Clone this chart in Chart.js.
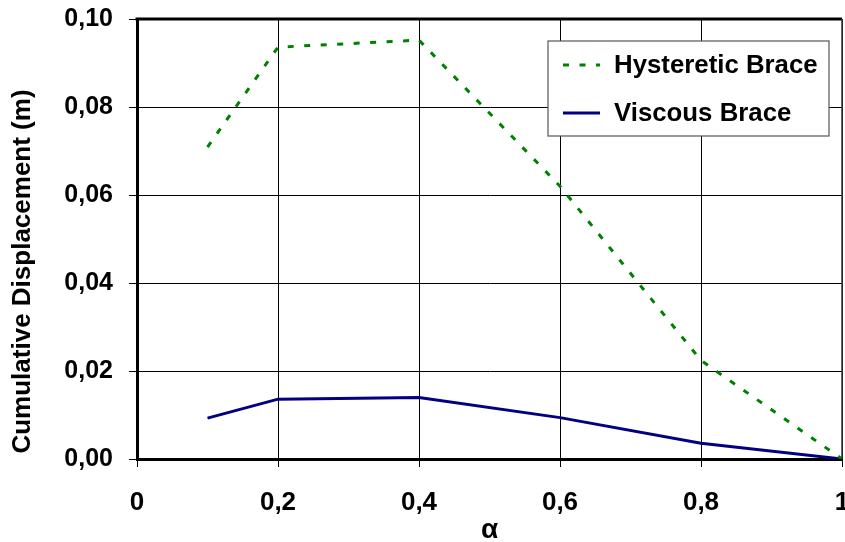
<!DOCTYPE html>
<html><head><meta charset="utf-8">
<script src="https://cdn.jsdelivr.net/npm/chart.js@4"></script>
<style>html,body{margin:0;padding:0;background:#fff}#wrap{width:845px;height:542px;position:relative}</style>
</head><body><div id="wrap"><canvas id="c"></canvas></div>
<script>
const alphaValues = [0.1, 0.2, 0.4, 0.6, 0.8, 1.0];
const hystereticBrace = [0.0709, 0.0936, 0.0952, 0.0620, 0.0224, 0.0];
const viscousBrace = [0.0093, 0.0136, 0.0140, 0.0094, 0.0036, 0.0];
const xTickValues = [0, 0.2, 0.4, 0.6, 0.8, 1];
const yTickValues = [0, 0.02, 0.04, 0.06, 0.08, 0.10];
const seriesNames = ['Hysteretic Brace', 'Viscous Brace'];
const xTitle = 'α';
const yTitle = 'Cumulative Displacement (m)';

const FONT = "'Liberation Sans', Arial, sans-serif";

function fmtX(v){ if (Math.abs(v) < 1e-9) return '0'; if (Math.abs(v-1) < 1e-9) return '1'; return v.toFixed(1).replace('.', ','); }
function fmtY(v){ return v.toFixed(2).replace('.', ','); }

const frame = {
  id: 'frame',
  afterDatasetsDraw(chart){
    const {ctx, chartArea:a} = chart;
    ctx.save();
    ctx.strokeStyle = '#000';
    ctx.lineWidth = 3;
    ctx.beginPath(); ctx.moveTo(a.left-1.5, a.top); ctx.lineTo(a.right, a.top); ctx.stroke();
    ctx.lineWidth = 1.5;
    ctx.strokeStyle = '#333';
    ctx.beginPath(); ctx.moveTo(a.right, a.top); ctx.lineTo(a.right, a.bottom); ctx.stroke();
    // legend
    const lx = 548, ly = 41, lw = 281, lh = 95;
    ctx.fillStyle = '#fff';
    ctx.fillRect(lx, ly, lw, lh);
    ctx.strokeStyle = '#555'; ctx.lineWidth = 1.2;
    ctx.strokeRect(lx, ly, lw, lh);
    const rows = [65, 113];
    chart.data.datasets.forEach((ds, i) => {
      ctx.save();
      ctx.strokeStyle = ds.borderColor; ctx.lineWidth = 3;
      ctx.setLineDash(ds.borderDash || []);
      ctx.beginPath(); ctx.moveTo(563, rows[i]); ctx.lineTo(600, rows[i]); ctx.stroke();
      ctx.restore();
      ctx.fillStyle = '#000';
      ctx.font = "bold 25.8px " + FONT;
      ctx.textBaseline = 'middle';
      ctx.textAlign = 'left';
      ctx.fillText(ds.label, 614, rows[i] + 1);
    });
    ctx.restore();
  }
};

new Chart(document.getElementById('c'), {
  type: 'line',
  data: {
    datasets: [
      { label: seriesNames[0], data: alphaValues.map((x,i)=>({x, y: hystereticBrace[i]})),
        borderColor: '#008000', borderWidth: 3, borderDash: [6, 10.5], pointRadius: 0, fill: false, tension: 0 },
      { label: seriesNames[1], data: alphaValues.map((x,i)=>({x, y: viscousBrace[i]})),
        borderColor: '#000080', borderWidth: 3, pointRadius: 0, fill: false, tension: 0 }
    ]
  },
  options: {
    responsive: true, maintainAspectRatio: false, animation: false,
    layout: { padding: { top: 19, right: 3, left: 0, bottom: 0 } },
    plugins: { legend: { display: false }, tooltip: { enabled: false } },
    scales: {
      x: {
        type: 'linear', min: 0, max: 1,
        afterBuildTicks: ax => { ax.ticks = xTickValues.map(v=>({value:v})); },
        afterFit: ax => { ax.height = 83; ax.paddingLeft = 0; ax.paddingRight = 0; },
        grid: { color: '#000', lineWidth: 1, tickLength: 8, tickColor: '#000' },
        border: { color: '#000', width: 3 },
        ticks: { color: '#000', font: { family: FONT, size: 26, weight: 'bold' }, padding: 20, maxRotation: 0, autoSkip: false,
                 callback: v => fmtX(v) },
        title: { display: true, text: xTitle, color: '#000', font: { family: FONT, size: 28, weight: 'bold', lineHeight: 0.85 }, padding: { top: 0, bottom: 0 } }
      },
      y: {
        type: 'linear', min: 0, max: 0.1,
        afterBuildTicks: ax => { ax.ticks = yTickValues.map(v=>({value:v})); },
        afterFit: ax => { ax.width = 137; ax.paddingTop = 0; ax.paddingBottom = 0; },
        grid: { color: '#000', lineWidth: 1, tickLength: 8, tickColor: '#000' },
        border: { color: '#000', width: 3 },
        ticks: { color: '#000', font: { family: FONT, size: 25, weight: 'bold' }, padding: 16, autoSkip: false,
                 callback: v => fmtY(v) },
        title: { display: true, text: yTitle + '\u00a0'.repeat(9), color: '#000', font: { family: FONT, size: 26, weight: 'bold' }, padding: { top: 7, bottom: 0 } }
      }
    }
  },
  plugins: [frame]
});
</script>
</body></html>
